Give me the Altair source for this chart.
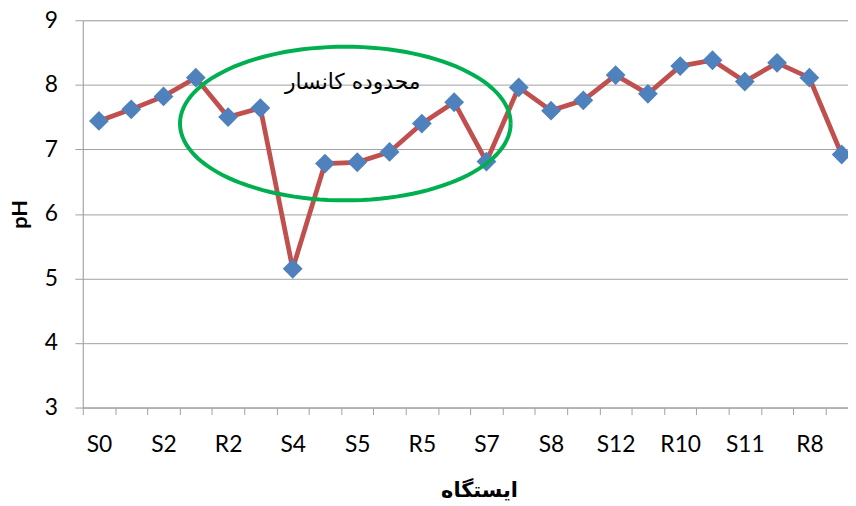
import json
import numpy as np
import pandas as pd
import altair as alt

# ---- data ----
stations = ["S0", "S1", "S2", "R1", "R2", "S3", "S4", "R3", "S5", "R4", "R5", "S6",
            "S7", "R6", "S8", "S9", "S12", "R9", "R10", "S10", "S11", "R7", "R8", "S13"]
ph = [7.44, 7.62, 7.82, 8.11, 7.50, 7.64, 5.15, 6.78, 6.80, 6.96, 7.40, 7.73,
      6.81, 7.96, 7.60, 7.76, 8.15, 7.86, 8.29, 8.38, 8.05, 8.34, 8.11, 6.92]
y_ticks = [3, 4, 5, 6, 7, 8, 9]
x_title = "ایستگاه"
y_title = "pH"
annotation_text = "محدوده کانسار"
annotation_pos = (7.86, 8.05)          # (station index, pH)
ellipse_center = (7.63, 7.40)          # (station index, pH)
ellipse_radii = (5.12, 1.19)

df = pd.DataFrame({"idx": list(range(len(stations))), "station": stations, "ph": ph})

# ellipse outline (annotation shape)
t = np.linspace(0, 2 * np.pi, 121)
ell = pd.DataFrame({
    "x": ellipse_center[0] + ellipse_radii[0] * np.cos(t),
    "y": ellipse_center[1] + ellipse_radii[1] * np.sin(t),
    "o": np.arange(len(t)),
})
ann = pd.DataFrame({"x": [annotation_pos[0]], "y": [annotation_pos[1]], "t": [annotation_text]})

# ---- layout ----
W = 772.5
H = 391
X_MAX = -0.5 + W / 32.6
GRID = "#a0a0a0"
FONT = "Lato"
AR_FONT = "DejaVu Sans"

xscale = alt.Scale(domain=[-0.5, X_MAX], nice=False, zero=False)
yscale = alt.Scale(domain=[3, 9], nice=False, zero=False)

label_expr = json.dumps(stations) + "[datum.value]"

x_label_axis = alt.Axis(
    orient="bottom", values=list(range(0, len(stations), 2)), labelExpr=label_expr,
    tickSize=0, domain=False, grid=False, labelFont=FONT, labelFontSize=23,
    labelColor="black", labelPadding=26, labelFlush=False, labelOverlap=False,
    title=x_title, titleFont=AR_FONT, titleFontSize=21, titleFontWeight="bold",
    titleColor="black", titleX=400, titleY=84, titleBaseline="middle", titleAlign="center",
)
x_tick_axis = alt.Axis(
    orient="bottom", values=[i - 0.5 for i in range(len(stations))], labels=False,
    tickSize=7, tickColor=GRID, tickWidth=1, domain=True, domainColor=GRID, domainWidth=1,
    grid=False, title=None,
)
y_axis = alt.Axis(
    orient="left", values=y_ticks, format="d", grid=True, gridColor=GRID, gridWidth=1,
    tickSize=8, tickColor=GRID, domain=True, domainColor=GRID, domainWidth=1,
    labelFont=FONT, labelFontSize=23, labelColor="black", labelPadding=17.5,
    labelFlush=False, title=y_title, titleFont=FONT, titleFontSize=22,
    titleFontWeight="bold", titleColor="black", titlePadding=13,
)

ticks_layer = alt.Chart(df).mark_point(opacity=0).encode(
    x=alt.X("idx:Q", scale=xscale, axis=x_tick_axis),
    y=alt.Y("ph:Q", scale=yscale, axis=y_axis),
)

line = alt.Chart(df).mark_line(color="#C0504D", strokeWidth=4.8, clip=True).encode(
    x=alt.X("idx:Q", scale=xscale, axis=x_label_axis),
    y=alt.Y("ph:Q", scale=yscale, axis=None),
)
points = alt.Chart(df).mark_point(shape="diamond", filled=True, size=400, opacity=1,
                                   color="#4F81BD").encode(
    x=alt.X("idx:Q", scale=xscale, axis=None),
    y=alt.Y("ph:Q", scale=yscale, axis=None),
)
ellipse = alt.Chart(ell).mark_line(color="#00B050", strokeWidth=4).encode(
    x=alt.X("x:Q", scale=xscale, axis=None),
    y=alt.Y("y:Q", scale=yscale, axis=None),
    order="o:Q",
)
label = alt.Chart(ann).mark_text(font=AR_FONT, fontSize=22, color="black").encode(
    x=alt.X("x:Q", scale=xscale, axis=None),
    y=alt.Y("y:Q", scale=yscale, axis=None),
    text="t:N",
)

chart = alt.layer(ticks_layer, line, points, ellipse, label).resolve_axis(
    x="independent", y="independent"
).properties(
    width=W, height=H,
    autosize=alt.AutoSizeParams(type="none"),
    padding={"left": 75.5, "top": 10, "right": 0, "bottom": 97},
).configure_view(stroke=None).configure(background="white")

chart.save("out.html", embed_options={"renderer": "svg", "actions": False})
